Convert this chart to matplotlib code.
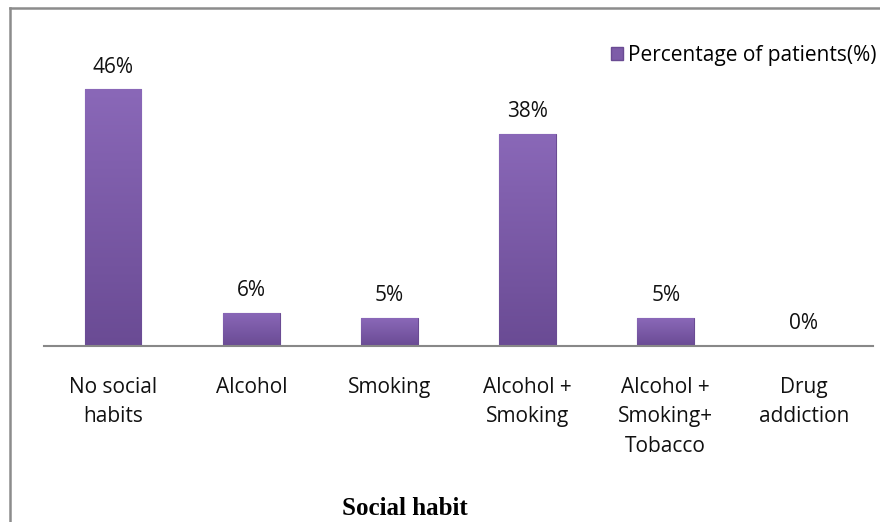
import matplotlib
matplotlib.use("Agg")
import matplotlib.pyplot as plt
import numpy as np
from matplotlib.lines import Line2D
from matplotlib.patches import Rectangle

categories = ["No social\nhabits", "Alcohol", "Smoking", "Alcohol +\nSmoking", "Alcohol +\nSmoking+\nTobacco", "Drug\naddiction"]
values = [46, 6, 5, 38, 5, 0]
series_name = "Percentage of patients(%)"
x_title = "Social habit"

plt.rcParams['font.family'] = ['Open Sans', 'DejaVu Sans']

W, H = 880, 522
FS = 15
fig = plt.figure(figsize=(W / 100, H / 100), dpi=100)
ax = fig.add_axes([44 / W, (H - 346) / H, 829 / W, (346 - 30) / H])

x = np.arange(len(categories))
bars = ax.bar(x, values, width=0.41, color="#7d5ca8", edgecolor="#6a4b93",
              linewidth=0.8, label=series_name, zorder=2)

grad = np.linspace(0, 1, 256).reshape(-1, 1)
cmap = matplotlib.colors.LinearSegmentedColormap.from_list("p", ["#6a4b94", "#8a68b8"])
for b in bars:
    if b.get_height() <= 0:
        continue
    im = ax.imshow(grad, extent=[b.get_x(), b.get_x() + b.get_width(), 0, b.get_height()],
                   aspect="auto", cmap=cmap, origin="lower", zorder=2.5)
    im.set_clip_path(b)

ax.set_xlim(-0.5, len(categories) - 0.5)
ax.set_ylim(0, 56.6)

for xi, v in zip(x, values):
    ax.annotate(f"{v}%", (xi, v), xytext=(0, 12), textcoords="offset points",
                ha="center", va="baseline", fontsize=FS, color="#111111")

ax.set_xticks(x)
ax.set_xticklabels(categories, fontsize=FS, linespacing=1.55, color="#111111")
ax.tick_params(axis="x", length=0, pad=22)
ax.set_yticks([])
for s in ["top", "right", "left"]:
    ax.spines[s].set_visible(False)
ax.spines["bottom"].set_color("#888888")
ax.spines["bottom"].set_linewidth(1.5)

fig.text(405 / W, 1 - 515 / H, x_title, ha="center", va="baseline",
         fontsize=18, fontweight="bold", family=["Liberation Serif", "DejaVu Serif"])

leg = fig.legend(handles=[Rectangle((0, 0), 1, 1, facecolor="#7d5ca8", edgecolor="#6a4b93")],
                 labels=[series_name], loc="upper right", bbox_to_anchor=(876 / W, 1 - 45 / H),
                 frameon=False, fontsize=FS, handlelength=0.6, handleheight=0.6,
                 handletextpad=0.2, borderaxespad=0, borderpad=0)

fig.add_artist(Line2D([10 / W, 10 / W], [0, 1 - 8 / H], color="#8c8c8c", lw=1.8, transform=fig.transFigure))
fig.add_artist(Line2D([10 / W, 1], [1 - 8 / H, 1 - 8 / H], color="#8c8c8c", lw=1.8, transform=fig.transFigure))

fig.savefig("out.png", dpi=100)
